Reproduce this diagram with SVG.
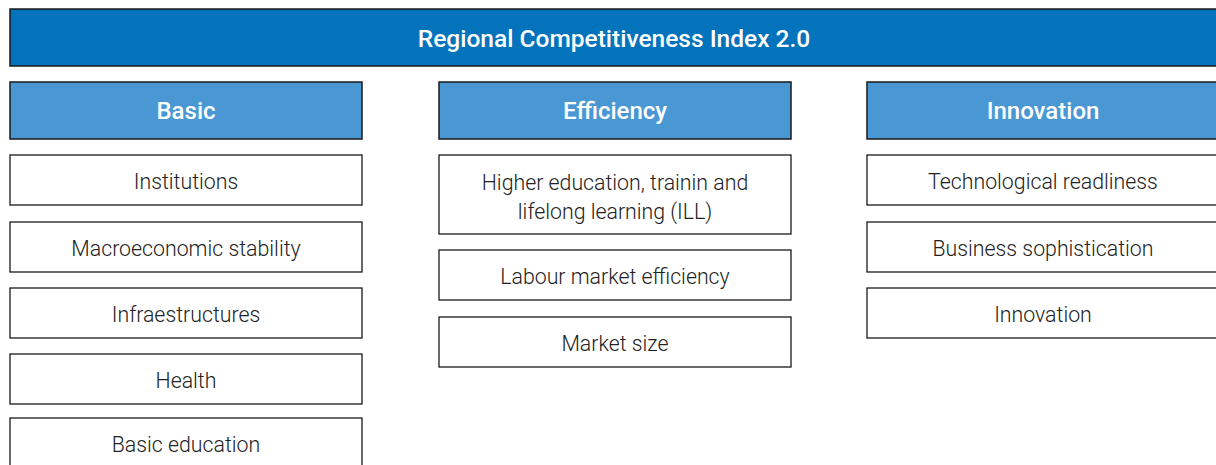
<svg xmlns="http://www.w3.org/2000/svg" width="1216" height="465" viewBox="0 0 1216 465">
<style>
.top{fill:#0373bb;stroke:#1a1a1a;stroke-width:1.5}
.hdr{fill:#4a98d3;stroke:#1a1a1a;stroke-width:1.5}
.box{fill:#ffffff;stroke:#1a1a1a;stroke-width:1.3}
.tt{font-family:Roboto,"Liberation Sans",sans-serif;font-weight:500;font-size:24.5px;fill:#ffffff;text-anchor:middle}
.ht{font-family:Roboto,"Liberation Sans",sans-serif;font-weight:500;font-size:24px;fill:#ffffff;text-anchor:middle}
.bt{font-family:Roboto,"Liberation Sans",sans-serif;font-weight:300;font-size:21.3px;fill:#222222;text-anchor:middle}
</style>
<rect width="1216" height="465" fill="#ffffff"/>
<g id="index"><rect class="top" x="10" y="9" width="1212" height="57"/><text class="tt" x="614" y="47">Regional Competitiveness Index 2.0</text></g>
<g id="basic"><rect class="hdr" x="10" y="82" width="352" height="57"/><text class="ht" x="186" y="119">Basic</text></g>
<g id="efficiency"><rect class="hdr" x="439" y="82" width="352" height="57"/><text class="ht" x="615" y="119">Efficiency</text></g>
<g id="innovation"><rect class="hdr" x="867" y="82" width="355" height="57"/><text class="ht" x="1043" y="119">Innovation</text></g>
<g id="institutions"><rect class="box" x="10" y="155" width="352" height="50"/><text class="bt" x="186" y="189">Institutions</text></g>
<g id="macro"><rect class="box" x="10" y="222" width="352" height="50"/><text class="bt" x="186" y="256">Macroeconomic stability</text></g>
<g id="infra"><rect class="box" x="10" y="288" width="352" height="50"/><text class="bt" x="186" y="322">Infraestructures</text></g>
<g id="health"><rect class="box" x="10" y="354" width="352" height="50"/><text class="bt" x="186" y="388">Health</text></g>
<g id="basic-edu"><rect class="box" x="10" y="418" width="352" height="60"/><text class="bt" x="186" y="452">Basic education</text></g>
<g id="higher-edu"><rect class="box" x="439" y="155" width="352" height="79"/><text class="bt" x="615" y="190">Higher education, trainin and</text><text class="bt" x="615" y="219">lifelong learning (ILL)</text></g>
<g id="labour"><rect class="box" x="439" y="250" width="352" height="50"/><text class="bt" x="615" y="284">Labour market efficiency</text></g>
<g id="market"><rect class="box" x="439" y="317" width="352" height="50"/><text class="bt" x="615" y="351">Market size</text></g>
<g id="tech"><rect class="box" x="867" y="155" width="355" height="50"/><text class="bt" x="1043" y="189">Technological readliness</text></g>
<g id="business"><rect class="box" x="867" y="222" width="355" height="50"/><text class="bt" x="1043" y="256">Business sophistication</text></g>
<g id="innov"><rect class="box" x="867" y="288" width="355" height="50"/><text class="bt" x="1043" y="322">Innovation</text></g>
<g id="connectors"></g>
</svg>
